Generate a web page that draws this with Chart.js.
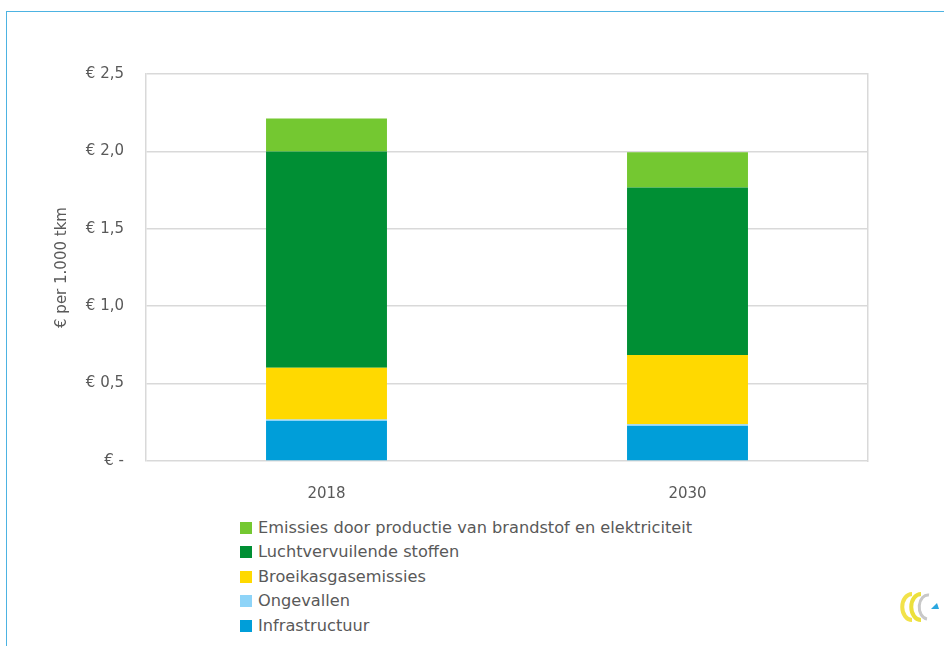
<!DOCTYPE html>
<html lang="nl">
<head>
<meta charset="UTF-8">
<title>Externe kosten per 1.000 tkm</title>
<script src="https://cdn.jsdelivr.net/npm/chart.js"></script>
<style>
  body { margin: 0; background: #fff; font-family: "DejaVu Sans", sans-serif; }
  #wrap { position: relative; width: 944px; height: 646px; overflow: hidden; }
  #frame { position: absolute; left: 6px; top: 11px; right: -2px; bottom: -2px;
           border-top: 1.5px solid #4db3e2; border-left: 1.5px solid #4db3e2; }
  #chartBox { position: absolute; left: 0; top: 0; width: 944px; height: 500px; }
  #legend { position: absolute; left: 240px; top: 516px; list-style: none; margin: 0; padding: 0; }
  #legend li { height: 24.4px; line-height: 24.4px; font-size: 16.2px; color: #595959; white-space: nowrap; }
  #legend span { display: inline-block; width: 12px; height: 12px; margin-right: 6px; vertical-align: -1px; }
  #logo { position: absolute; left: 900px; top: 590px; }
</style>
</head>
<body>
<div id="wrap">
  <div id="frame"></div>
  <div id="chartBox"><canvas id="costChart"></canvas></div>
  <ul id="legend"></ul>
  <svg id="logo" width="44" height="34" viewBox="0 0 44 34">
    <path d="M12 4 A9 12 0 0 0 12 30" fill="none" stroke="#f2e24a" stroke-width="4"/>
    <path d="M21 4 A9 12 0 0 0 21 30" fill="none" stroke="#ece03c" stroke-width="4"/>
    <path d="M29 5 A8 11 0 0 0 27 29" fill="none" stroke="#c8c8c8" stroke-width="3"/>
    <path d="M31 19 L39 19 L37 13 Z" fill="#2aa7e0"/>
  </svg>
</div>
<script>
const years = ['2018', '2030'];
const infrastructuur = [0.258, 0.226];
const ongevallen = [0.010, 0.011];
const broeikasgas = [0.335, 0.448];
const luchtvervuiling = [1.397, 1.081];
const productieEmissies = [0.212, 0.228];
const yTickLabels = ['€ -', '€ 0,5', '€ 1,0', '€ 1,5', '€ 2,0', '€ 2,5'];

const grey = '#595959';
const tickFont = { family: '"DejaVu Sans", sans-serif', size: 15 };

const datasets = [
  { label: 'Infrastructuur', data: infrastructuur, backgroundColor: '#009ed9' },
  { label: 'Ongevallen', data: ongevallen, backgroundColor: '#8ed4f8' },
  { label: 'Broeikasgasemissies', data: broeikasgas, backgroundColor: '#ffd900' },
  { label: 'Luchtvervuilende stoffen', data: luchtvervuiling, backgroundColor: '#008f34' },
  { label: 'Emissies door productie van brandstof en elektriciteit', data: productieEmissies, backgroundColor: '#74c831' }
];
datasets.forEach(d => { d.barPercentage = 0.67; d.categoryPercentage = 0.5; });

const chart = new Chart(document.getElementById('costChart'), {
  type: 'bar',
  data: { labels: years, datasets: datasets },
  options: {
    responsive: true,
    maintainAspectRatio: false,
    animation: false,
    layout: { padding: { top: 74, right: 76, left: 50, bottom: 0 } },
    plugins: { legend: { display: false }, tooltip: { enabled: false } },
    scales: {
      x: {
        stacked: true,
        grid: { display: false },
        border: { display: false },
        ticks: { color: grey, font: tickFont, padding: 16 },
        afterFit: s => { s.height = 39; }
      },
      y: {
        stacked: true,
        min: 0, max: 2.5,
        ticks: {
          stepSize: 0.5,
          color: grey,
          font: tickFont,
          padding: 22,
          callback: (v, i) => yTickLabels[i]
        },
        grid: { color: '#d9d9d9', lineWidth: 1.5, drawTicks: false },
        border: { display: true, color: '#d9d9d9', width: 1.5 },
        title: {
          display: true,
          text: '€ per 1.000 tkm',
          color: grey,
          font: tickFont,
          padding: { top: 3, bottom: 0 }
        },
        afterFit: s => { s.width = 96; }
      },
      yRight: {
        position: 'right',
        min: 0, max: 2.5,
        ticks: { display: false },
        grid: { display: false, drawTicks: false },
        border: { display: true, color: '#d9d9d9', width: 1.5 },
        afterFit: s => { s.width = 0; }
      }
    }
  }
});

// legend listed top-down, reverse of stacking order
const legend = document.getElementById('legend');
datasets.slice().reverse().forEach(d => {
  const li = document.createElement('li');
  const box = document.createElement('span');
  box.style.background = d.backgroundColor;
  li.appendChild(box);
  li.appendChild(document.createTextNode(d.label));
  legend.appendChild(li);
});
</script>
</body>
</html>
